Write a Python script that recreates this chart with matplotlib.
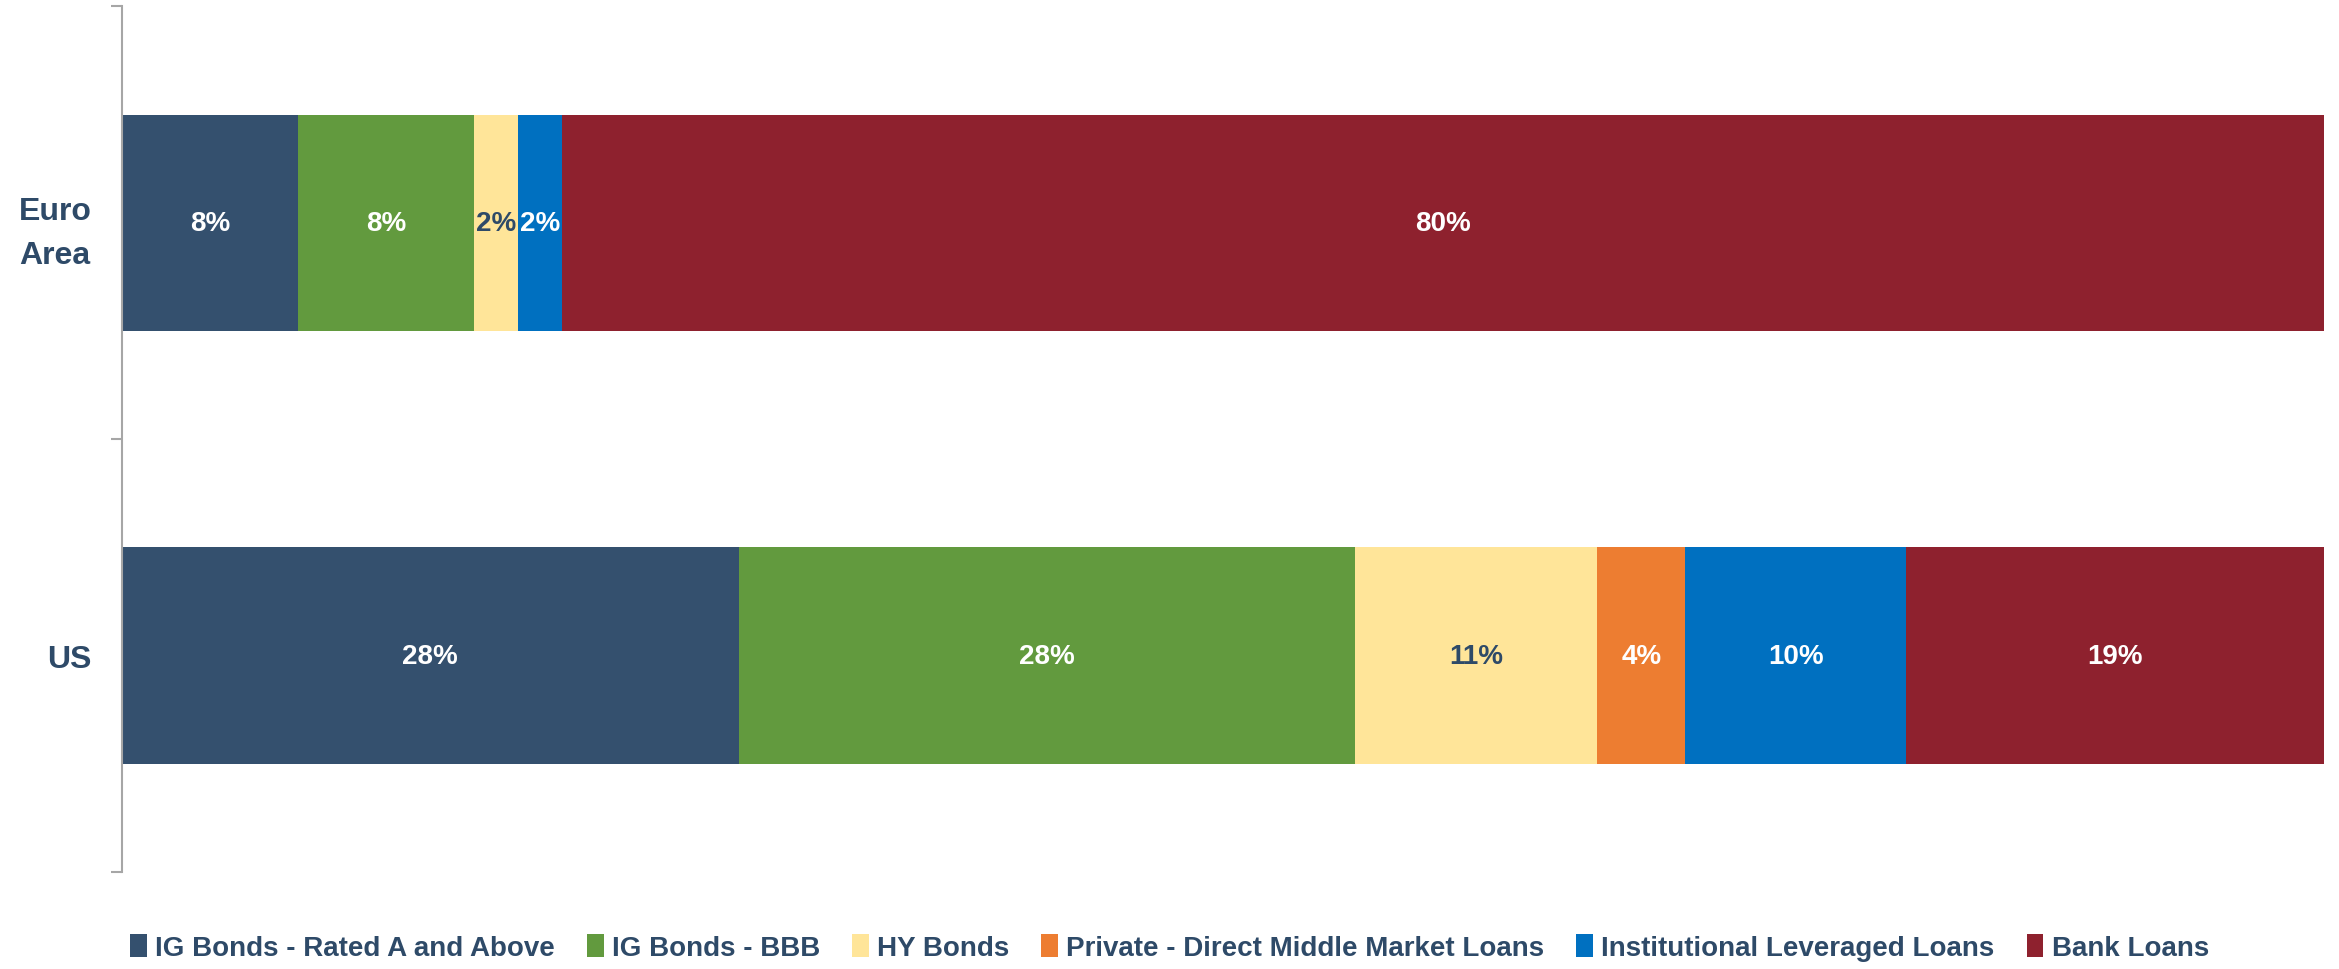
import matplotlib.pyplot as plt
import numpy as np
from matplotlib.patches import Patch

# data (share of corporate financing, %)
regions = ['US', 'Euro\nArea']
categories = ['IG Bonds - Rated A and Above', 'IG Bonds - BBB', 'HY Bonds',
              'Private - Direct Middle Market Loans', 'Institutional Leveraged Loans',
              'Bank Loans']
us_share = [28, 28, 11, 4, 10, 19]
euro_share = [8, 8, 2, 0, 2, 80]

colors = ['#34506E', '#629A3E', '#FFE599', '#ED7D31', '#0070C0', '#8E212E']
text_colors = ['white', 'white', '#2E4A68', 'white', 'white', 'white']
navy = '#2E4A68'

plt.rcParams['font.family'] = ['Liberation Sans', 'DejaVu Sans']
plt.rcParams['font.weight'] = 'bold'

fig = plt.figure(figsize=(23.39, 9.70), dpi=100)
ax = fig.add_axes([0.0522, 0.10, 0.9414, 0.8923])

values = np.array([us_share, euro_share], dtype=float)
y = np.arange(len(regions))
left = np.zeros(len(regions))
for i, cat in enumerate(categories):
    bars = ax.barh(y, values[:, i], left=left, height=0.5, color=colors[i], label=cat)
    for j, b in enumerate(bars):
        v = values[j, i]
        if v > 0:
            ax.text(left[j] + v / 2, y[j], f'{int(v)}%', ha='center', va='center',
                    color=text_colors[i], fontsize=20, fontweight='bold')
    left += values[:, i]

ax.set_xlim(0, 100)
ax.set_ylim(-0.5, 1.5)
ax.set_yticks(y)
ax.set_yticklabels(regions, fontsize=23, fontweight='bold', color=navy,
                   multialignment='center', linespacing=1.6)
ax.tick_params(axis='y', which='major', length=0, pad=22)
ax.set_yticks([-0.5, 0.5, 1.5], minor=True)
ax.tick_params(axis='y', which='minor', length=8, color='#A6A6A6', width=1.5)
ax.set_xticks([])
for s in ['top', 'right', 'bottom']:
    ax.spines[s].set_visible(False)
ax.spines['left'].set_color('#A6A6A6')
ax.spines['left'].set_linewidth(1.5)

handles = [Patch(facecolor=c, label=l) for c, l in zip(colors, categories)]
fig.legend(handles=handles, loc='center', bbox_to_anchor=(0.5, 0.022), ncol=6,
           frameon=False, handlelength=0.6, handleheight=0.9,
           handletextpad=0.3, columnspacing=1.15, labelcolor=navy,
           prop={'weight': 'bold', 'size': 20})

fig.savefig('out.png', dpi=100)
